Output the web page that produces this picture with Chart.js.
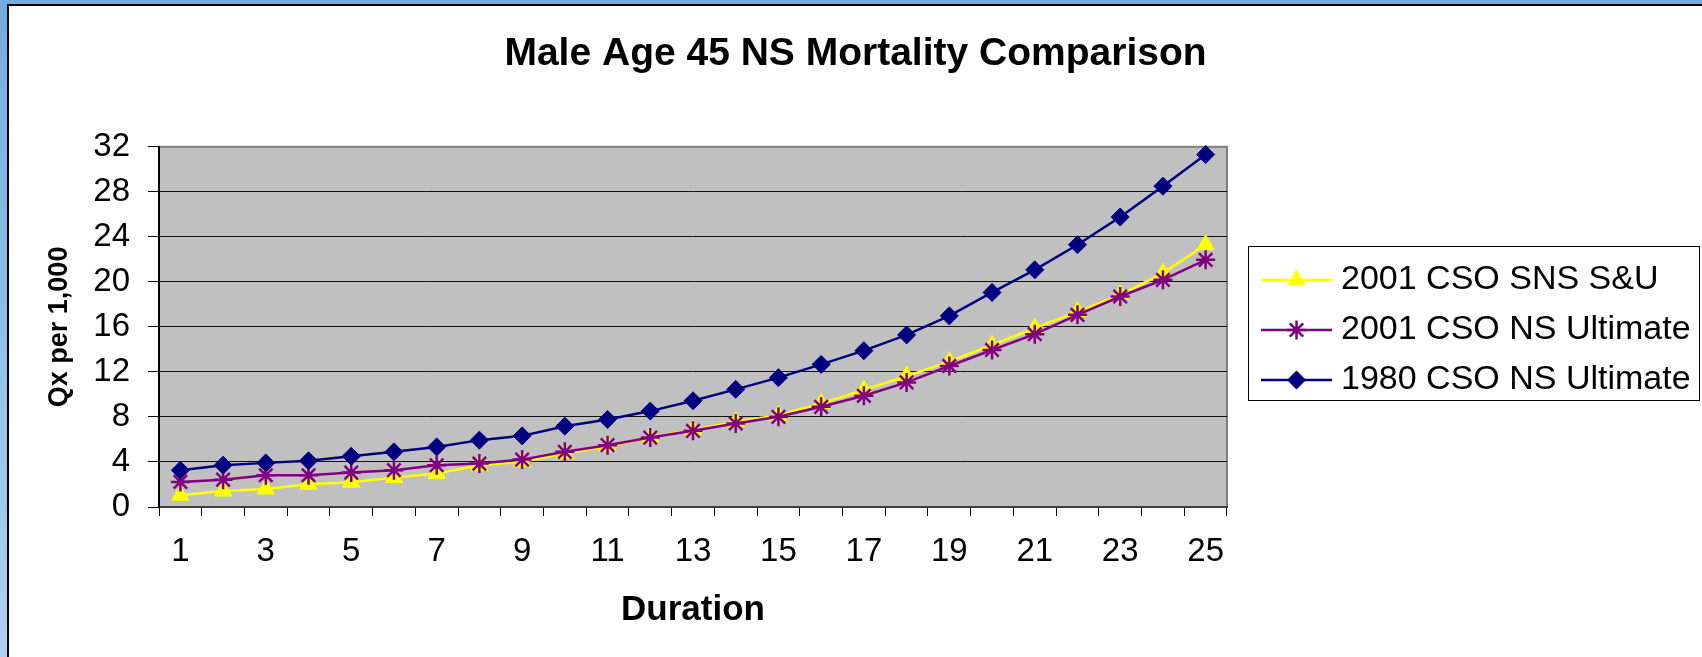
<!DOCTYPE html>
<html>
<head>
<meta charset="utf-8">
<script src="https://cdn.jsdelivr.net/npm/chart.js@4.4.1/dist/chart.umd.min.js"></script>
<style>
  html, body { margin: 0; padding: 0; }
  body {
    width: 1702px; height: 657px; position: relative; overflow: hidden;
    background: linear-gradient(to bottom, #74ace0, #afd1f0);
  }
  #frame {
    position: absolute; left: 7px; top: 4px; right: 0; bottom: 0;
    background: #fff; border-top: 2px solid #000; border-left: 2px solid #000;
  }
  #chart { position: absolute; left: 0; top: 0; }
</style>
</head>
<body>
<div id="frame"></div>
<canvas id="chart" width="1702" height="657"></canvas>
<script>
// durations 1..25
const durations = ["1","2","3","4","5","6","7","8","9","10","11","12","13",
  "14","15","16","17","18","19","20","21","22","23","24","25"];

// qx per 1,000
const cso2001SnsSU = [1.04, 1.42, 1.60, 2.02, 2.20, 2.61, 2.97, 3.71, 4.01, 4.75,
  5.40, 6.20, 6.85, 7.57, 8.16, 9.20, 10.39, 11.63, 12.91, 14.39,
  15.88, 17.36, 18.85, 20.78, 23.30];
const cso2001NsUlt = [2.23, 2.43, 2.82, 2.82, 3.06, 3.27, 3.71, 3.86, 4.21, 4.90,
  5.49, 6.17, 6.77, 7.42, 8.01, 8.90, 9.88, 11.07, 12.53, 13.95,
  15.35, 17.07, 18.70, 20.18, 21.96];
const cso1980NsUlt = [3.27, 3.71, 3.92, 4.10, 4.51, 4.90, 5.34, 5.94, 6.32, 7.18,
  7.78, 8.52, 9.44, 10.45, 11.49, 12.67, 13.89, 15.29, 16.98, 19.06,
  21.07, 23.30, 25.76, 28.50, 31.31];

const seriesNames = ["2001 CSO SNS S&U", "2001 CSO NS Ultimate", "1980 CSO NS Ultimate"];
const yTicks = [0, 4, 8, 12, 16, 20, 24, 28, 32];

const FONT = '"Liberation Sans", Arial, sans-serif';

// grey plot area like the old excel charts
const plotBg = {
  id: "plotBg",
  beforeDraw(chart) {
    const { ctx, chartArea: a } = chart;
    ctx.save();
    ctx.fillStyle = "#c0c0c0";
    ctx.fillRect(a.left, a.top, a.width, a.height);
    ctx.strokeStyle = "#808080";
    ctx.lineWidth = 2;
    ctx.strokeRect(a.left, a.top, a.width, a.height);
    ctx.restore();
  }
};

// excel style legend: line with marker, boxed
const boxLegend = {
  id: "boxLegend",
  afterDraw(chart) {
    const { ctx, chartArea: a } = chart;
    const left = a.right + 21, top = 246, w = 451, h = 154;
    ctx.save();
    ctx.strokeStyle = "#000";
    ctx.lineWidth = 1;
    ctx.strokeRect(left + 0.5, top + 0.5, w, h);
    chart.data.datasets.forEach((ds, i) => {
      const y = top + 34 + i * 50;
      ctx.strokeStyle = ds.borderColor;
      ctx.lineWidth = ds.borderWidth;
      ctx.beginPath();
      ctx.moveTo(left + 13, y);
      ctx.lineTo(left + 84, y);
      ctx.stroke();
      ctx.fillStyle = ds.pointBackgroundColor;
      ctx.strokeStyle = ds.pointBorderColor;
      ctx.lineWidth = ds.pointBorderWidth;
      Chart.helpers.drawPoint(ctx, {
        pointStyle: ds.pointStyle, radius: ds.pointRadius,
        borderWidth: ds.pointBorderWidth, rotation: 0
      }, left + 48.5, y);
      ctx.fillStyle = "#000";
      ctx.font = "34px " + FONT;
      ctx.textBaseline = "middle";
      ctx.textAlign = "left";
      ctx.fillText(ds.label, left + 93, y);
    });
    ctx.restore();
  }
};

new Chart(document.getElementById("chart"), {
  type: "line",
  data: {
    labels: durations,
    datasets: [
      {
        label: seriesNames[0],
        data: cso2001SnsSU,
        borderColor: "#ffff00",
        backgroundColor: "#ffff00",
        pointBackgroundColor: "#ffff00",
        pointBorderColor: "#ffff00",
        pointStyle: "triangle",
        pointRadius: 10,
        pointBorderWidth: 1,
        borderWidth: 2.5,
        order: 2
      },
      {
        label: seriesNames[1],
        data: cso2001NsUlt,
        borderColor: "#800080",
        backgroundColor: "#800080",
        pointBackgroundColor: "#800080",
        pointBorderColor: "#800080",
        pointStyle: "star",
        pointRadius: 9.5,
        pointBorderWidth: 2.5,
        borderWidth: 2.5,
        order: 1
      },
      {
        label: seriesNames[2],
        data: cso1980NsUlt,
        borderColor: "#000080",
        backgroundColor: "#000080",
        pointBackgroundColor: "#000080",
        pointBorderColor: "#000080",
        pointStyle: "rectRot",
        pointRadius: 9,
        pointBorderWidth: 1,
        borderWidth: 2.5,
        order: 0
      }
    ]
  },
  options: {
    responsive: false,
    animation: false,
    devicePixelRatio: 1,
    clip: false,
    layout: { padding: { left: 9, top: 6, right: 0, bottom: 0 } },
    elements: { line: { tension: 0, fill: false } },
    plugins: {
      legend: { display: false },
      tooltip: { enabled: false },
      title: {
        display: true,
        text: "Male Age 45 NS Mortality Comparison",
        color: "#000",
        font: { family: FONT, size: 39, weight: "bold" },
        padding: { top: 25, bottom: 69 }
      }
    },
    scales: {
      x: {
        type: "category",
        offset: true,
        grid: {
          offset: true,
          drawOnChartArea: false,
          drawTicks: true,
          tickLength: 9,
          color: "#000",
          lineWidth: 1
        },
        border: { display: true, color: "#404040", width: 2 },
        ticks: {
          autoSkip: false,
          maxRotation: 0,
          color: "#000",
          padding: 16,
          font: { family: FONT, size: 33 },
          callback: (v, i) => (i % 2 === 0 ? durations[i] : "")
        },
        title: {
          display: true,
          text: "Duration",
          color: "#000",
          font: { family: FONT, size: 35, weight: "bold" },
          padding: { top: 0, bottom: 26 }
        },
        afterFit(s) { s.height = 150; }
      },
      y: {
        type: "linear",
        min: yTicks[0],
        max: yTicks[yTicks.length - 1],
        afterBuildTicks(s) { s.ticks = yTicks.map(v => ({ value: v })); },
        grid: {
          color: (c) => (c.tick && c.tick.value === 32 ? "#808080" : (c.tick && c.tick.value === 0 ? "rgba(0,0,0,0)" : "#111")),
          tickColor: "#000",
          lineWidth: 1,
          drawTicks: true,
          tickLength: 11
        },
        border: { display: true, color: "#000", width: 2 },
        ticks: {
          color: "#000",
          padding: 18,
          font: { family: FONT, size: 33 }
        },
        title: {
          display: true,
          text: "Qx per 1,000",
          color: "#000",
          font: { family: FONT, size: 27, weight: "bold" },
          padding: { top: 34, bottom: 0 }
        },
        afterFit(s) { s.width = 150; }
      },
      spacer: {
        type: "linear",
        position: "right",
        display: true,
        min: 0,
        max: 1,
        ticks: { display: false },
        grid: { display: false },
        border: { display: false },
        afterFit(s) { s.width = 475; }
      }
    }
  },
  plugins: [plotBg, boxLegend]
});
</script>
</body>
</html>
